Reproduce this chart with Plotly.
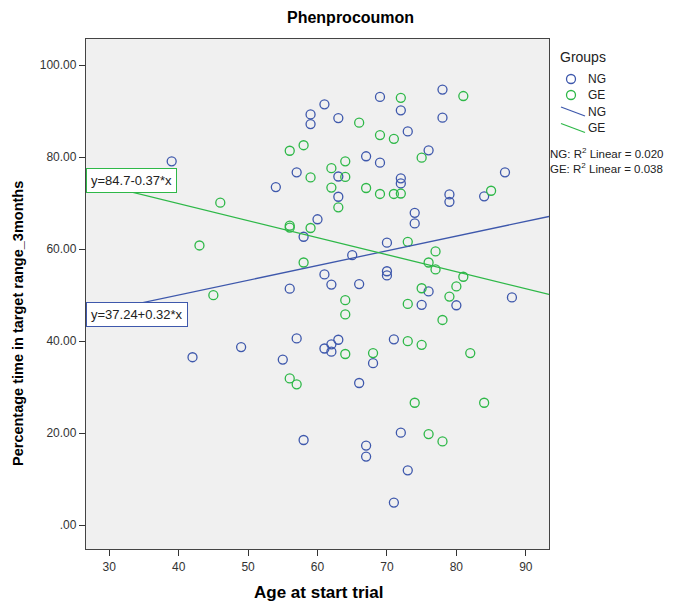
import plotly.graph_objects as go

# ---- data -------------------------------------------------------------
ng_age = [39, 69, 72, 61, 59, 59, 63, 67, 69, 57, 63, 54, 63, 72, 72, 78, 78, 73, 76, 87,
          84, 79, 79, 74, 74, 49, 42, 60, 58, 70, 65, 70, 70, 61, 62, 66, 56, 57, 61, 62,
          62, 63, 71, 68, 55, 76, 88, 75, 80, 66, 58, 67, 67, 71, 72, 73]
ng_pct = [79.1, 93.1, 90.2, 91.5, 89.3, 87.2, 88.5, 80.2, 78.8, 76.7, 75.8, 73.5, 71.4, 75.4,
          74.3, 94.7, 88.6, 85.6, 81.5, 76.7, 71.5, 71.9, 70.3, 67.9, 65.6, 38.7, 36.5, 66.5,
          62.7, 61.4, 58.7, 55.2, 54.3, 54.5, 52.3, 52.4, 51.4, 40.6, 38.4, 39.3, 37.7, 40.3,
          40.4, 35.2, 36.0, 50.8, 49.5, 47.9, 47.8, 30.9, 18.5, 17.3, 14.9, 4.9, 20.1, 11.9]

ge_age = [46, 72, 66, 69, 71, 58, 56, 64, 62, 59, 64, 62, 67, 69, 71, 72, 63, 81, 75, 85,
          43, 45, 56, 56, 59, 58, 64, 64, 64, 68, 73, 77, 76, 77, 81, 80, 75, 79, 73, 78,
          73, 75, 82, 56, 57, 74, 84, 76, 78]
ge_pct = [70.1, 92.9, 87.5, 84.8, 84.0, 82.6, 81.4, 79.1, 77.6, 75.6, 75.7, 73.4, 73.3, 72.0,
          72.0, 72.1, 69.1, 93.3, 79.9, 72.7, 60.8, 50.0, 65.1, 64.7, 64.6, 57.1, 48.9, 45.8,
          37.2, 37.4, 61.6, 59.5, 57.1, 55.6, 54.0, 51.9, 51.5, 49.7, 48.1, 44.6, 40.0, 39.2,
          37.4, 31.9, 30.6, 26.6, 26.6, 19.8, 18.2]

# fitted lines (intercept, slope) and R squared per group
ng_fit = (37.24, 0.32)
ge_fit = (84.7, -0.37)
ng_r2 = "0.020"
ge_r2 = "0.038"

x_ticks = [30, 40, 50, 60, 70, 80, 90]
y_ticks = [0, 20, 40, 60, 80, 100]
y_ticktext = [".00", "20.00", "40.00", "60.00", "80.00", "100.00"]

# ---- layout constants ---------------------------------------------------
W, H = 677, 601
L, R, T, B = 86, 549, 39, 549          # plot area edges in pixels
x_range = [26.66, 93.34]
y_range = [-5.2, 105.7]

BLUE = "#3E58AC"
GREEN = "#2EB848"
FONT = "Liberation Sans, Arial, sans-serif"


def fx(p):
    return (p - L) / (R - L)


def fy(p):
    return (B - p) / (B - T)


fig = go.Figure()

for ages, pct, col in [(ng_age, ng_pct, BLUE), (ge_age, ge_pct, GREEN)]:
    fig.add_trace(go.Scatter(
        x=ages, y=pct, mode="markers", showlegend=False, hoverinfo="x+y",
        marker=dict(symbol="circle-open", size=9, color=col, line=dict(width=1.3, color=col)),
    ))

for (b0, b1), col in [(ng_fit, BLUE), (ge_fit, GREEN)]:
    xs = [x_range[0], x_range[1]]
    fig.add_trace(go.Scatter(
        x=xs, y=[b0 + b1 * v for v in xs], mode="lines", showlegend=False,
        line=dict(color=col, width=1.3), hoverinfo="skip",
    ))

annotations = []

# equation labels at the left edge of each fitted line
for (b0, b1), col in [(ge_fit, GREEN), (ng_fit, BLUE)]:
    sign = "+" if b1 >= 0 else "-"
    txt = f"y={b0:g}{sign}{abs(b1):.2f}*x"
    annotations.append(dict(
        x=x_range[0], y=b0 + b1 * x_range[0], xref="x", yref="y",
        xanchor="left", yanchor="middle", showarrow=False, text=txt,
        font=dict(family=FONT, size=13, color="#222"),
        bgcolor="white", bordercolor=col, borderwidth=1, borderpad=4,
    ))

# titles
annotations.append(dict(x=fx(350), y=fy(18), xref="paper", yref="paper", showarrow=False,
                        text="<b>Phenprocoumon</b>", font=dict(family=FONT, size=16, color="#000"),
                        xanchor="center", yanchor="middle"))
annotations.append(dict(x=fx(318), y=fy(592), xref="paper", yref="paper", showarrow=False,
                        text="<b>Age at start trial</b>", font=dict(family=FONT, size=17, color="#000"),
                        xanchor="center", yanchor="middle"))
annotations.append(dict(x=fx(18), y=fy(324), xref="paper", yref="paper", showarrow=False,
                        text="<b>Percentage time in target range_3months</b>", textangle=-90,
                        font=dict(family=FONT, size=14.5, color="#000"),
                        xanchor="center", yanchor="middle"))

# legend
legend_font = dict(family=FONT, size=12, color="#222")
annotations.append(dict(x=fx(558), y=fy(57), xref="paper", yref="paper", showarrow=False,
                        text="Groups", font=dict(family=FONT, size=14, color="#222"),
                        xanchor="left", yanchor="middle"))
for label, py in [("NG", 79), ("GE", 95), ("NG", 112), ("GE", 128)]:
    annotations.append(dict(x=fx(586), y=fy(py), xref="paper", yref="paper", showarrow=False,
                            text=label, font=legend_font, xanchor="left", yanchor="middle"))
for label, r2, py in [("NG", ng_r2, 153), ("GE", ge_r2, 168)]:
    annotations.append(dict(x=fx(548), y=fy(py), xref="paper", yref="paper", showarrow=False,
                            text=f"{label}: R<sup>2</sup> Linear = {r2}",
                            font=dict(family=FONT, size=11.5, color="#222"),
                            xanchor="left", yanchor="middle"))

shapes = []
for col, py in [(BLUE, 79), (GREEN, 95)]:
    shapes.append(dict(type="circle", xref="paper", yref="paper",
                       x0=fx(566.5), x1=fx(575.5), y0=fy(py + 4.5), y1=fy(py - 4.5),
                       line=dict(color=col, width=1.3)))
for col, py in [(BLUE, 111.5), (GREEN, 128)]:
    shapes.append(dict(type="line", xref="paper", yref="paper",
                       x0=fx(561), x1=fx(585), y0=fy(py - 4.5), y1=fy(py + 4.5),
                       line=dict(color=col, width=1.3)))

fig.update_layout(
    width=W, height=H,
    margin=dict(l=L, r=W - R, t=T, b=H - B, pad=0),
    paper_bgcolor="white", plot_bgcolor="#F0F0F0",
    showlegend=False,
    annotations=annotations, shapes=shapes,
    font=dict(family=FONT, size=12, color="#333"),
)
fig.update_xaxes(range=x_range, tickvals=x_ticks, ticks="outside", ticklen=6, tickwidth=1.3,
                 tickcolor="#333", showline=True, linecolor="#444", linewidth=1.3, mirror=True,
                 showgrid=False, zeroline=False, tickfont=dict(family=FONT, size=12, color="#333"))
fig.update_yaxes(range=y_range, tickvals=y_ticks, ticktext=y_ticktext, ticks="outside", ticklen=6,
                 tickwidth=1.3, tickcolor="#333", showline=True, linecolor="#444", linewidth=1.3,
                 mirror=True, showgrid=False, zeroline=False,
                 tickfont=dict(family=FONT, size=12, color="#333"))

fig.write_html("out.html")
